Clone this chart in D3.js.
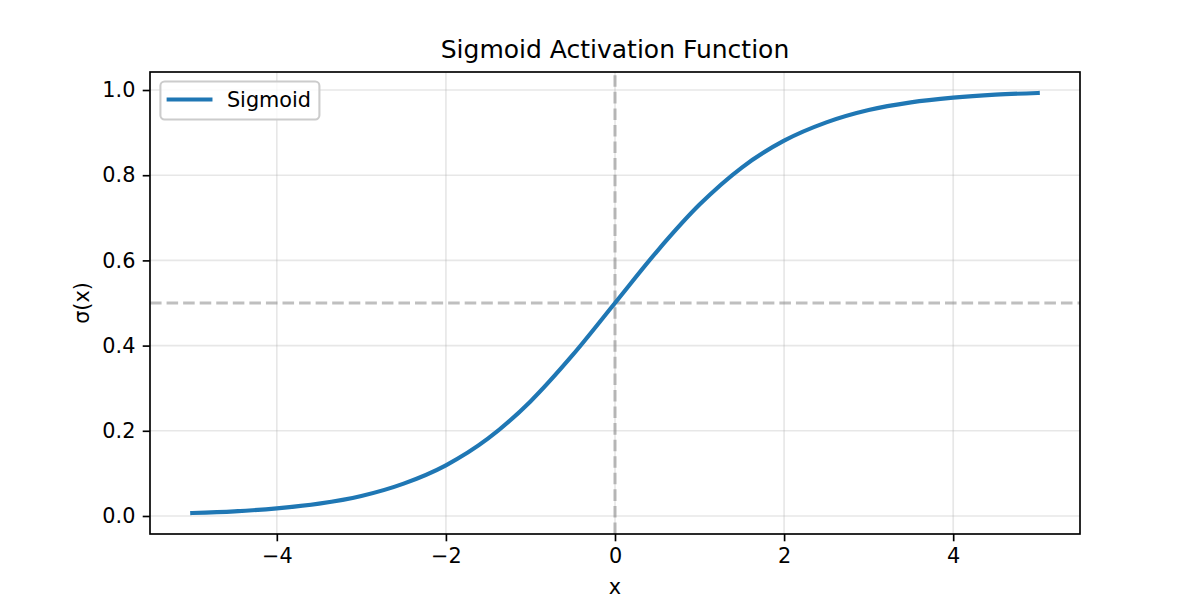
<!DOCTYPE html>
<html>
<head>
<meta charset="utf-8">
<script src="https://cdn.jsdelivr.net/npm/d3@7"></script>
<style>
  body { margin: 0; background: #fff; }
  svg text { font-family: "DejaVu Sans", sans-serif; fill: #000; }
</style>
</head>
<body>
<div id="chart"></div>
<script>
(function () {

// values
const xValues = [-5, -4.5, -4, -3.5, -3, -2.5, -2, -1.5, -1, -0.5, 0,
                 0.5, 1, 1.5, 2, 2.5, 3, 3.5, 4, 4.5, 5];
const sigmoidValues = [0.007, 0.011, 0.018, 0.029, 0.047, 0.076, 0.119, 0.182, 0.269, 0.378, 0.5,
                       0.622, 0.731, 0.818, 0.881, 0.924, 0.953, 0.971, 0.982, 0.989, 0.993];
const xTicks = [-4, -2, 0, 2, 4];
const yTicks = [0.0, 0.2, 0.4, 0.6, 0.8, 1.0];
const seriesName = 'Sigmoid';

const [WIDTH, HEIGHT] = [1200, 600];
const margin = { left: 150, right: 120, top: 72, bottom: 66 };
const LINE_COLOR = '#1f77b4';
const FONT = 20.8;      // 10pt at 150 dpi
const PT = 150 / 72;    // px per point

const svg = d3.select('#chart').append('svg')
    .attr('width', WIDTH)
    .attr('height', HEIGHT)
    .attr('viewBox', `0 0 ${WIDTH} ${HEIGHT}`);

const points = xValues.map((x, i) => ({ x: x, y: sigmoidValues[i] }));

// matplotlib-style 5% padding on the data range
const xExt = d3.extent(xValues);
const yExt = d3.extent(sigmoidValues);
const xPad = (xExt[1] - xExt[0]) * 0.05;
const yPad = (yExt[1] - yExt[0]) * 0.05;

const x = d3.scaleLinear()
    .domain([xExt[0] - xPad, xExt[1] + xPad])
    .range([margin.left, WIDTH - margin.right]);
const y = d3.scaleLinear()
    .domain([yExt[0] - yPad, yExt[1] + yPad])
    .range([HEIGHT - margin.bottom, margin.top]);

const plotLeft = margin.left, plotRight = WIDTH - margin.right;
const plotTop = margin.top, plotBottom = HEIGHT - margin.bottom;

// grid
const grid = svg.append('g').attr('class', 'grid')
    .attr('stroke', '#b0b0b0').attr('stroke-opacity', 0.3).attr('stroke-width', 0.8 * PT);
grid.selectAll('.gx').data(xTicks).enter().append('line')
    .attr('x1', (d) => x(d)).attr('x2', (d) => x(d))
    .attr('y1', plotTop).attr('y2', plotBottom);
grid.selectAll('.gy').data(yTicks).enter().append('line')
    .attr('y1', (d) => y(d)).attr('y2', (d) => y(d))
    .attr('x1', plotLeft).attr('x2', plotRight);

// reference lines at x=0 and y=0.5
const refs = svg.append('g')
    .attr('stroke', '#808080').attr('stroke-opacity', 0.5)
    .attr('stroke-width', 1.5 * PT)
    .attr('stroke-dasharray', `${5.55 * PT},${2.4 * PT}`);
refs.append('line')
    .attr('x1', x(0)).attr('x2', x(0))
    .attr('y1', plotBottom).attr('y2', plotTop);
refs.append('line')
    .attr('x1', plotLeft).attr('x2', plotRight)
    .attr('y1', y(0.5)).attr('y2', y(0.5));

// curve
const line = d3.line()
    .x((d) => x(d.x))
    .y((d) => y(d.y))
    .curve(d3.curveMonotoneX);

svg.append('path')
    .datum(points)
    .attr('d', line)
    .attr('fill', 'none')
    .attr('stroke', LINE_COLOR)
    .attr('stroke-width', 2 * PT)
    .attr('stroke-linecap', 'square');

// axes
const tickLen = 3.5 * PT;
const xAxis = svg.append('g')
    .attr('transform', `translate(0,${plotBottom})`)
    .call(d3.axisBottom(x).tickValues(xTicks)
        .tickFormat((d) => d < 0 ? '\u2212' + Math.abs(d) : d)
        .tickSize(tickLen).tickPadding(tickLen));
const yAxis = svg.append('g')
    .attr('transform', `translate(${plotLeft},0)`)
    .call(d3.axisLeft(y).tickValues(yTicks)
        .tickFormat(d3.format('.1f'))
        .tickSize(tickLen).tickPadding(tickLen));

[xAxis, yAxis].forEach((ax) => {
    ax.select('.domain').remove();
    ax.selectAll('.tick line').attr('stroke', '#000').attr('stroke-width', 0.8 * PT);
    ax.selectAll('.tick text').attr('font-size', FONT + 'px').attr('fill', '#000');
});

// frame
svg.append('rect')
    .attr('x', plotLeft).attr('y', plotTop)
    .attr('width', plotRight - plotLeft).attr('height', plotBottom - plotTop)
    .attr('fill', 'none').attr('stroke', '#000').attr('stroke-width', 0.8 * PT);

// labels
svg.append('text')
    .attr('x', (plotLeft + plotRight) / 2).attr('y', 58)
    .attr('text-anchor', 'middle')
    .attr('font-size', '25px')
    .text('Sigmoid Activation Function');
svg.append('text')
    .attr('x', (plotLeft + plotRight) / 2).attr('y', 594)
    .attr('text-anchor', 'middle')
    .attr('font-size', FONT + 'px')
    .text('x');
svg.append('text')
    .attr('transform', `translate(89,${(plotTop + plotBottom) / 2}) rotate(-90)`)
    .attr('text-anchor', 'middle')
    .attr('font-size', FONT + 'px')
    .text('\u03c3(x)');

// legend
const legend = svg.append('g').attr('transform', `translate(${plotLeft + 10.4},${plotTop + 9.5})`);
legend.append('rect')
    .attr('x', 0).attr('y', 0).attr('width', 159).attr('height', 38)
    .attr('rx', 4.2).attr('fill', '#fff').attr('fill-opacity', 0.8)
    .attr('stroke', '#cccccc').attr('stroke-width', PT);
legend.append('line')
    .attr('x1', 8.3).attr('x2', 50).attr('y1', 18).attr('y2', 18)
    .attr('stroke', LINE_COLOR).attr('stroke-width', 2 * PT)
    .attr('stroke-linecap', 'square');
legend.append('text')
    .attr('x', 66.5).attr('y', 25)
    .attr('font-size', FONT + 'px')
    .text(seriesName);

})();
</script>
</body>
</html>
